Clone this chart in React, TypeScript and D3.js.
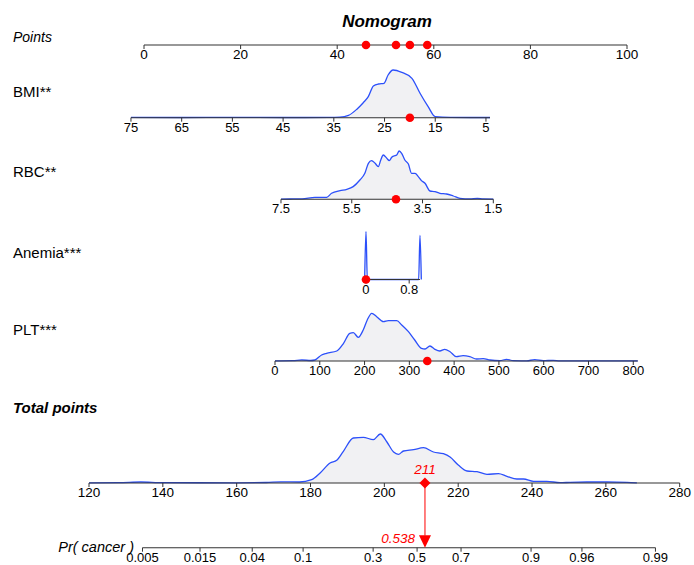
import React from "react";
import * as d3 from "d3";

// ---------- data ----------
const pointsTicks = [0, 20, 40, 60, 80, 100];

const bmiTicks = [75, 65, 55, 45, 35, 25, 15, 5];
const bmiExtent = [75, 4.2];
const bmiPointsMap = [[75, -2.7], [5, 70.8]];
const bmiValue = 20;
const bmiDensity = [
  [75, 0.3], [65, 0.2], [55, 0.3], [45, 0.2], [36, 0.3], [33.8, 0.5], [32.1, 2.3], [30.5, 8.3],
  [29.2, 15], [28.2, 21], [27.2, 31.7], [26.2, 33.7], [25.1, 34.3], [24.3, 42.7], [23.3, 47.7],
  [21.6, 45.3], [19.6, 39.4], [18.0, 24.4], [16.4, 11], [15.0, 1], [12, 0.3], [8, 0.2], [4.2, 0.2],
];

const rbcTicks = [7.5, 5.5, 3.5, 1.5];
const rbcExtent = [7.5, 1.5];
const rbcPointsMap = [[7.5, 28.36], [1.5, 72.32]];
const rbcValue = 4.25;
const rbcDensity = [
  [7.5, 0.2], [7.25, 0.3], [6.9, 0.5], [6.54, 2], [6.21, 2], [6.07, 6], [5.83, 8.7], [5.64, 10],
  [5.46, 12.7], [5.27, 19.3], [5.13, 26], [5.03, 36], [4.94, 38.7], [4.84, 36], [4.75, 32.7],
  [4.68, 39.3], [4.61, 44.3], [4.51, 41], [4.44, 38.7], [4.37, 42], [4.31, 43.3], [4.23, 44.3],
  [4.16, 48.3], [4.09, 46], [4.0, 39.3], [3.9, 35.3], [3.81, 26], [3.71, 26], [3.62, 22.7],
  [3.53, 18.7], [3.43, 16], [3.29, 8.3], [3.15, 7.7], [3.01, 6], [2.82, 5.3], [2.63, 3.3],
  [2.44, 1], [2.16, 0.4], [1.95, 1], [1.79, 0.4], [1.5, 0.2],
];

const anemiaTicks = [0, 0.8];
const anemiaExtent = [0, 1];
const anemiaPointsMap = [[0, 45.96], [1, 57.14]];
const anemiaValue = 0;
const anemiaDensity = [
  [-0.025, 0], [0, 48], [0.025, 0], [0.975, 0], [1, 44], [1.025, 0],
];

const pltTicks = [0, 100, 200, 300, 400, 500, 600, 700, 800];
const pltExtent = [0, 810];
const pltPointsMap = [[0, 27.12], [800, 101.3]];
const pltValue = 340;
const pltDensity = [
  [0, 0.2], [40, 0.4], [60, 1], [80, 0.5], [89, 1], [104, 6], [115, 7.7], [138, 10], [153, 17.7],
  [167, 27.7], [175, 28.3], [186, 23.7], [197, 31], [206, 41], [216, 47.7], [227, 44.3],
  [242, 39.3], [253, 40.3], [272, 40.3], [283, 36], [298, 29.3], [312, 21], [327, 12.7],
  [335, 12], [346, 15], [357, 11.7], [368, 10], [379, 11.7], [391, 9.3], [405, 4.3], [420, 5.3],
  [435, 4.3], [450, 2], [465, 2.3], [480, 1], [502, 0.3], [517, 1.7], [532, 0.3], [562, 0.2],
  [580, 1.3], [599, 0.3], [621, 0.7], [636, 0.2], [700, 0.2], [760, 0.2], [810, 0.2],
];

const totalTicks = [120, 140, 160, 180, 200, 220, 240, 260, 280];
const totalValue = 211;
const totalDensity = [
  [120, 0.2], [128, 0.3], [134, 1], [140, 0.3], [160, 0.2], [168, 0.5], [172, 1.2], [177, 1],
  [180.3, 3.3], [182.6, 10], [185.3, 20], [187.1, 22.7], [188.9, 31.7], [191.6, 45],
  [194.3, 45.7], [197.0, 43.3], [198.9, 49], [200.7, 41], [202.5, 31], [203.8, 28.7],
  [205.2, 32], [207.9, 33.3], [210.6, 35.3], [213.3, 31], [216.0, 29.3], [217.8, 26],
  [220.1, 17.7], [222.4, 12], [225.1, 11.3], [227.8, 8.7], [230.9, 9.3], [233.2, 6.7],
  [235.9, 4], [237.7, 4], [240.4, 1.7], [244.0, 1.7], [247.6, 0.3], [250.3, 0.7], [254.9, 1],
  [260.3, 1], [265.7, 0.7], [268.4, 0.2],
];

const probTicks = [0.005, 0.015, 0.04, 0.1, 0.3, 0.5, 0.7, 0.9, 0.96, 0.99];
const probValue = 0.538;
const lpIntercept = -14.865;
const lpSlope = 0.07117;

// ---------- layout ----------
const W = 694;
const H = 565;
const FONT = "'Liberation Sans', Arial, sans-serif";
const BLUE = "#2c50fa";
const FILL = "#f1f1f3";
const AXIS = "#333333";
const RED = "#ff0000";
const DENS_H = 48;

const xPoints = d3.scaleLinear().domain([0, 100]).range([144, 627]);
const xTotal = d3.scaleLinear().domain([120, 280]).range([89, 679.7]);
const logit = (p: number) => Math.log(p / (1 - p));
const probToTotal = (p: number) => (logit(p) - lpIntercept) / lpSlope;

type Row = {
  label: string;
  y: number;
  labelY: number;
  ticks: number[];
  extent: number[];
  map: number[][];
  value: number;
  density: number[][];
};

const rows: Row[] = [
  { label: "BMI**", y: 117.7, labelY: 97, ticks: bmiTicks, extent: bmiExtent, map: bmiPointsMap, value: bmiValue, density: bmiDensity },
  { label: "RBC**", y: 199.3, labelY: 177, ticks: rbcTicks, extent: rbcExtent, map: rbcPointsMap, value: rbcValue, density: rbcDensity },
  { label: "Anemia***", y: 279.5, labelY: 258, ticks: anemiaTicks, extent: anemiaExtent, map: anemiaPointsMap, value: anemiaValue, density: anemiaDensity },
  { label: "PLT***", y: 361, labelY: 335, ticks: pltTicks, extent: pltExtent, map: pltPointsMap, value: pltValue, density: pltDensity },
];

function Density({ data, x, y }: { data: number[][]; x: (v: number) => number; y: number }) {
  const h = d3.scaleLinear().domain([0, 48]).range([0, DENS_H]);
  const area = d3
    .area<number[]>()
    .x((d) => x(d[0]))
    .y0(y)
    .y1((d) => y - h(d[1]))
    .curve(d3.curveMonotoneX);
  const line = d3
    .line<number[]>()
    .x((d) => x(d[0]))
    .y((d) => y - h(d[1]))
    .curve(d3.curveMonotoneX);
  const sorted = [...data].sort((a, b) => x(a[0]) - x(b[0]));
  return (
    <g>
      <path d={area(sorted) || ""} fill={FILL} stroke="none" />
      <path d={line(sorted) || ""} fill="none" stroke={BLUE} strokeWidth={1.3} />
    </g>
  );
}

function Axis({
  x,
  y,
  ticks,
  extent,
  fmt,
  fontSize = 13,
}: {
  x: (v: number) => number;
  y: number;
  ticks: number[];
  extent: number[];
  fmt?: (v: number) => string;
  fontSize?: number;
}) {
  const f = fmt || ((v: number) => String(v));
  return (
    <g>
      <line x1={x(extent[0])} x2={x(extent[1])} y1={y} y2={y} stroke={AXIS} strokeWidth={1.1} />
      {ticks.map((t) => (
        <g key={t}>
          <line x1={x(t)} x2={x(t)} y1={y} y2={y + 4} stroke={AXIS} strokeWidth={1} />
          <text x={x(t)} y={y + 14} textAnchor="middle" fontSize={fontSize} fontFamily={FONT} fill="#000">
            {f(t)}
          </text>
        </g>
      ))}
    </g>
  );
}

export default function App() {
  const pointsY = 45;
  const totalY = 483;
  const probY = 547.7;
  const totalX = xTotal(totalValue);
  const probX = xTotal(probToTotal(probValue));

  const rowScales = rows.map((r) => {
    const vp = d3.scaleLinear().domain([r.map[0][0], r.map[1][0]]).range([r.map[0][1], r.map[1][1]]);
    return (v: number) => xPoints(vp(v));
  });

  const xProb = (p: number) => xTotal(probToTotal(p));

  return (
    <svg width={W} height={H} style={{ position: "absolute", left: 0, top: 0, background: "#fff" }}>
      <text x={387} y={27} textAnchor="middle" fontSize={17} fontWeight="bold" fontStyle="italic" fontFamily={FONT}>
        Nomogram
      </text>

      {/* Points */}
      <text x={13} y={42} fontSize={14} fontStyle="italic" fontFamily={FONT}>
        Points
      </text>
      <Axis x={xPoints} y={pointsY} ticks={pointsTicks} extent={[0, 100]} fontSize={13.5} />

      {rows.map((r, i) => {
        const sx = rowScales[i];
        return (
          <g key={r.label}>
            <text x={13} y={r.labelY} fontSize={15} fontFamily={FONT}>
              {r.label}
            </text>
            <Density data={r.density} x={sx} y={r.y} />
            <Axis x={sx} y={r.y} ticks={r.ticks} extent={r.extent} fontSize={13} />
            <circle cx={sx(r.value)} cy={r.y} r={4.3} fill={RED} />
          </g>
        );
      })}

      {/* points dots */}
      {rows.map((r, i) => (
        <circle key={"p" + r.label} cx={rowScales[i](r.value)} cy={pointsY} r={4.3} fill={RED} />
      ))}

      {/* Total points */}
      <text x={13} y={413} fontSize={15} fontWeight="bold" fontStyle="italic" fontFamily={FONT}>
        Total points
      </text>
      <Density data={totalDensity} x={xTotal} y={totalY} />
      <Axis x={xTotal} y={totalY} ticks={totalTicks} extent={[120, 280]} fontSize={13.5} />

      {/* Probability */}
      <text x={134} y={552} textAnchor="end" fontSize={14.5} fontStyle="italic" fontFamily={FONT}>
        Pr( cancer )
      </text>
      <Axis x={xProb} y={probY} ticks={probTicks} extent={[0.005, 0.99]} fmt={(v) => String(v)} fontSize={13} />

      {/* red path */}
      <line x1={totalX} x2={probX} y1={totalY} y2={probY - 12} stroke={RED} strokeWidth={1} />
      <path
        d={`M${totalX},${totalY - 5.5} L${totalX + 5.5},${totalY} L${totalX},${totalY + 5.5} L${totalX - 5.5},${totalY} Z`}
        fill={RED}
      />
      <path d={`M${probX - 6},${probY - 12.5} L${probX + 6},${probY - 12.5} L${probX},${probY} Z`} fill={RED} />
      <text x={totalX} y={474} textAnchor="middle" fontSize={13.5} fontStyle="italic" fontFamily={FONT} fill={RED}>
        {String(totalValue)}
      </text>
      <text x={probX - 10} y={543} textAnchor="end" fontSize={13.5} fontStyle="italic" fontFamily={FONT} fill={RED}>
        {String(probValue)}
      </text>
    </svg>
  );
}
